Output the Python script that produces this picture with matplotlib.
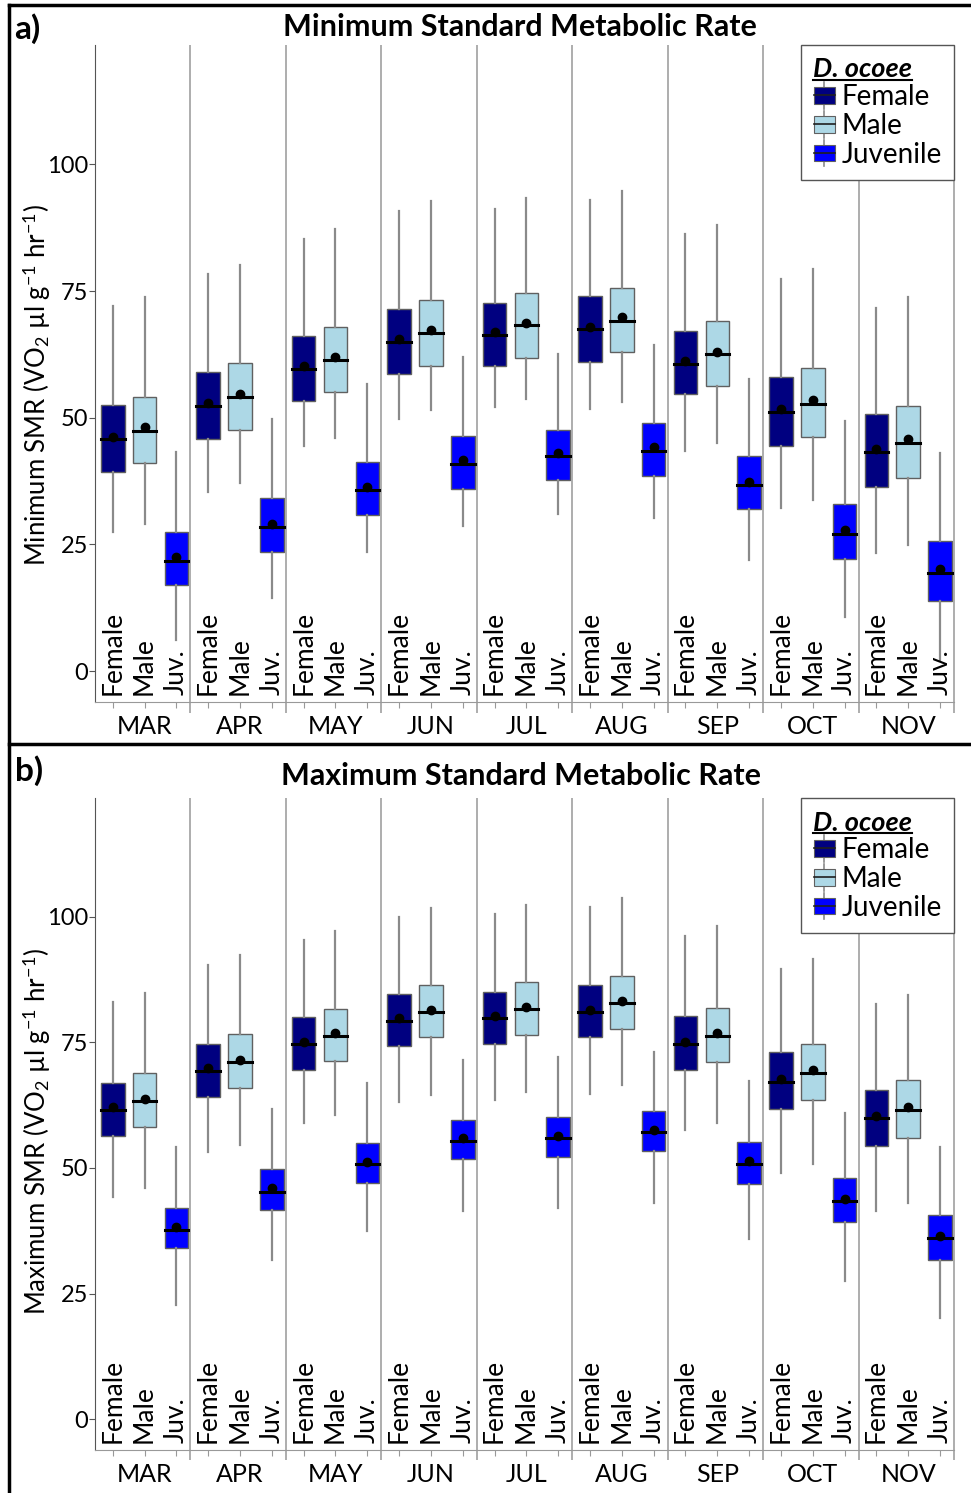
import numpy as np
import matplotlib
matplotlib.use('Agg')
import matplotlib.pyplot as plt
from matplotlib.patches import Patch, Rectangle
from matplotlib.lines import Line2D
from matplotlib.legend_handler import HandlerBase

plt.rcParams['font.family'] = ['Lato', 'DejaVu Sans']
plt.rcParams['mathtext.fontset'] = 'custom'
plt.rcParams['mathtext.rm'] = 'Lato'
plt.rcParams['mathtext.it'] = 'Lato:italic'
plt.rcParams['mathtext.bf'] = 'Lato:bold'

months = ['MAR', 'APR', 'MAY', 'JUN', 'JUL', 'AUG', 'SEP', 'OCT', 'NOV']
groups = ['Female', 'Male', 'Juvenile']
short_labels = ['Female', 'Male', 'Juv.']
colors = ['#000080', '#add8e6', '#0000ff']

# each row = one month, [Female, Male, Juvenile]
# Minimum SMR
min_lo = [[27.5, 29.1, 6.1], [35.4, 37.2, 14.4], [44.5, 46.0, 23.5],
          [49.8, 51.6, 28.7], [52.1, 53.8, 31.0], [51.7, 53.2, 30.2],
          [43.4, 45.1, 21.9], [32.1, 33.8, 10.7], [23.4, 24.9, 2.2]]
min_q1 = [[39.3, 41.0, 16.9], [45.8, 47.6, 23.5], [53.3, 55.0, 30.8],
          [58.6, 60.3, 35.9], [60.3, 61.9, 37.7], [61.1, 62.9, 38.5],
          [54.6, 56.3, 32.0], [44.5, 46.3, 22.1], [36.4, 38.2, 13.8]]
min_med = [[45.8, 47.4, 21.7], [52.3, 54.2, 28.5], [59.7, 61.5, 35.8],
           [64.9, 66.7, 40.9], [66.4, 68.3, 42.4], [67.5, 69.2, 43.5],
           [60.7, 62.6, 36.8], [51.1, 52.8, 27.1], [43.2, 45.0, 19.3]]
min_q3 = [[52.6, 54.2, 27.4], [59.0, 60.9, 34.1], [66.1, 68.0, 41.2],
          [71.5, 73.3, 46.5], [72.7, 74.6, 47.6], [74.0, 75.7, 49.0],
          [67.2, 69.1, 42.4], [58.0, 59.8, 32.9], [50.7, 52.4, 25.6]]
min_hi = [[72.1, 73.8, 43.2], [78.3, 80.2, 49.7], [85.2, 87.3, 56.7],
          [90.8, 92.7, 62.0], [91.2, 93.3, 62.6], [92.9, 94.7, 64.4],
          [86.2, 88.0, 57.6], [77.3, 79.4, 49.4], [71.7, 73.9, 43.0]]
min_mean = [[46.3, 48.2, 22.6], [52.9, 54.7, 29.1], [60.3, 62.0, 36.3],
            [65.5, 67.3, 41.6], [67.0, 68.8, 43.1], [68.0, 69.9, 44.2],
            [61.3, 63.0, 37.4], [51.8, 53.5, 27.9], [43.9, 45.8, 20.1]]

# Maximum SMR
max_lo = [[44.3, 46.0, 22.8], [53.2, 54.6, 31.7], [58.9, 60.5, 37.5],
          [63.1, 64.6, 41.4], [63.5, 65.2, 42.0], [64.7, 66.5, 43.0],
          [57.5, 59.0, 35.8], [49.0, 50.7, 27.6], [41.4, 43.0, 20.1]]
max_q1 = [[56.4, 58.1, 34.0], [64.1, 65.9, 41.7], [69.5, 71.3, 47.0],
          [74.3, 76.0, 51.7], [74.7, 76.4, 52.2], [76.0, 77.7, 53.4],
          [69.4, 71.1, 46.8], [61.8, 63.5, 39.3], [54.3, 56.0, 31.7]]
max_med = [[61.6, 63.3, 37.7], [69.3, 71.0, 45.3], [74.6, 76.3, 50.7],
           [79.3, 81.1, 55.4], [79.9, 81.6, 55.9], [81.1, 82.8, 57.1],
           [74.6, 76.3, 50.7], [67.2, 68.9, 43.4], [59.9, 61.6, 36.0]]
max_q3 = [[67.0, 68.9, 42.1], [74.7, 76.6, 49.7], [80.0, 81.6, 54.9],
          [84.7, 86.4, 59.6], [85.1, 87.0, 60.2], [86.4, 88.2, 61.3],
          [80.2, 81.8, 55.1], [73.0, 74.7, 48.0], [65.6, 67.5, 40.7]]
max_hi = [[83.0, 84.8, 54.2], [90.4, 92.4, 61.8], [95.3, 97.2, 66.9],
          [100.0, 101.8, 71.5], [100.6, 102.4, 72.0], [101.9, 103.7, 73.0],
          [96.2, 98.1, 67.4], [89.6, 91.5, 61.0], [82.7, 84.5, 54.2]]
max_mean = [[62.2, 63.8, 38.3], [69.8, 71.5, 46.0], [75.1, 76.8, 51.1],
            [79.8, 81.5, 55.9], [80.3, 82.1, 56.4], [81.5, 83.2, 57.6],
            [75.1, 76.8, 51.3], [67.8, 69.5, 43.9], [60.4, 62.2, 36.5]]

yticks = [0, 25, 50, 75, 100]


class HandlerBox(HandlerBase):
    # little boxplot glyph for the legend
    def create_artists(self, legend, orig_handle, xdescent, ydescent,
                       width, height, fontsize, trans):
        cx = width / 2 - xdescent
        w = 0.95 * width
        h = 0.95 * height
        y0 = (height - h) / 2 - ydescent
        whisk = Line2D([cx, cx], [y0 - 0.3 * h, y0 + 1.3 * h],
                       color='#8a8a8a', lw=1.2, transform=trans)
        rect = Rectangle((cx - w / 2, y0), w, h,
                         facecolor=orig_handle.get_facecolor(),
                         edgecolor='#606060', lw=0.8, transform=trans)
        med = Line2D([cx - w / 2, cx + w / 2], [y0 + h / 2, y0 + h / 2],
                     color='#202020', lw=1.2, transform=trans)
        return [whisk, rect, med]


def draw_panel(ax, lo, q1, med, q3, hi, mean):
    stats = []
    pos = []
    cols = []
    for i in range(len(months)):
        for j in range(3):
            stats.append(dict(whislo=lo[i][j], q1=q1[i][j], med=med[i][j],
                              q3=q3[i][j], whishi=hi[i][j], mean=mean[i][j],
                              fliers=[]))
            pos.append(3 * i + 0.56 + j)
            cols.append(colors[j])
    bp = ax.bxp(stats, positions=pos, widths=0.74, patch_artist=True,
                showcaps=False, showmeans=True, manage_ticks=False,
                boxprops=dict(edgecolor='#606060', linewidth=1.0),
                whiskerprops=dict(color='#8a8a8a', linewidth=1.6),
                medianprops=dict(color='black', linewidth=2.2,
                                 solid_capstyle='projecting'),
                meanprops=dict(marker='o', markerfacecolor='black',
                               markeredgecolor='black', markersize=6))
    for b, c in zip(bp['boxes'], cols):
        b.set_facecolor(c)

    ax.set_xlim(0, 27)
    ax.set_ylim(-6.1, 123.6)
    for s in ['top', 'right']:
        ax.spines[s].set_visible(False)
    ax.spines['left'].set_color('#555555')
    ax.spines['bottom'].set_color('#999999')
    ax.vlines(np.arange(3, 28, 3), -0.016, 1, color='#a0a0a0', lw=1.2,
              transform=ax.get_xaxis_transform(), clip_on=False)

    ax.set_xticks(pos)
    ax.set_xticklabels([])
    ax.tick_params(axis='x', length=4, color='#999999')
    ax.set_yticks(yticks)
    ax.tick_params(axis='y', length=4, color='#555555', labelsize=17, pad=1)

    for p, k in zip(pos, range(len(pos))):
        ax.text(p, -4.7, short_labels[k % 3], rotation=90, ha='center',
                va='bottom', fontsize=19)
    for i, m in enumerate(months):
        ax.text(3 * i + 1.56, -0.038, m, ha='center', va='center',
                fontsize=18, transform=ax.get_xaxis_transform())

    handles = [Patch(facecolor=c) for c in colors]
    leg = ax.legend(handles, groups, loc='upper right', bbox_to_anchor=(1, 1),
                    borderaxespad=0, handler_map={Patch: HandlerBox()},
                    fancybox=False, edgecolor='#555555', framealpha=1,
                    fontsize=20, handlelength=0.8, handleheight=0.6,
                    handletextpad=0.2, labelspacing=0.1, borderpad=0.45,
                    title='D. ocoee', alignment='left',
                    title_fontproperties=dict(weight='bold', style='italic',
                                              size=19.5))
    leg.get_frame().set_linewidth(1.0)
    return leg


fig = plt.figure(figsize=(9.71, 14.93), dpi=100)
ax_a = fig.add_axes([0.0978, 0.5298, 0.8847, 0.4401])
ax_b = fig.add_axes([0.0978, 0.0288, 0.8847, 0.4367])

leg_a = draw_panel(ax_a, min_lo, min_q1, min_med, min_q3, min_hi, min_mean)
leg_b = draw_panel(ax_b, max_lo, max_q1, max_med, max_q3, max_hi, max_mean)

fig.text(0.5355, 0.982, 'Minimum Standard Metabolic Rate', ha='center',
         va='center', fontsize=22, weight='bold')
fig.text(0.5365, 0.480, 'Maximum Standard Metabolic Rate', ha='center',
         va='center', fontsize=22, weight='bold')
fig.text(0.015, 0.981, 'a)', ha='left', va='center', fontsize=24, weight='bold')
fig.text(0.015, 0.484, 'b)', ha='left', va='center', fontsize=24, weight='bold')

fig.text(0.038, 0.742, r'Minimum SMR (VO$_2$ µl g$^{-1}$ hr$^{-1}$)',
         rotation=90, ha='center', va='center', fontsize=18.5)
fig.text(0.038, 0.242, r'Maximum SMR (VO$_2$ µl g$^{-1}$ hr$^{-1}$)',
         rotation=90, ha='center', va='center', fontsize=18.5)

# panel frames
fig.add_artist(Line2D([0.0093, 0.0093], [0, 0.9967], color='black', lw=2.5,
                      transform=fig.transFigure))
fig.add_artist(Line2D([0.0093, 1], [0.9967, 0.9967], color='black', lw=2.5,
                      transform=fig.transFigure))
fig.add_artist(Line2D([0.0093, 1], [0.5017, 0.5017], color='black', lw=2.5,
                      transform=fig.transFigure))

# underline legend titles
fig.canvas.draw()
inv = fig.transFigure.inverted()
for leg in [leg_a, leg_b]:
    bb = leg.get_title().get_window_extent()
    (x0, y0), (x1, y1) = inv.transform([[bb.x0, bb.y0], [bb.x1, bb.y1]])
    fig.add_artist(Line2D([x0, x1], [y0 + 0.001, y0 + 0.001], color='black',
                          lw=1.5, transform=fig.transFigure))

fig.savefig('out.png', dpi=100)
